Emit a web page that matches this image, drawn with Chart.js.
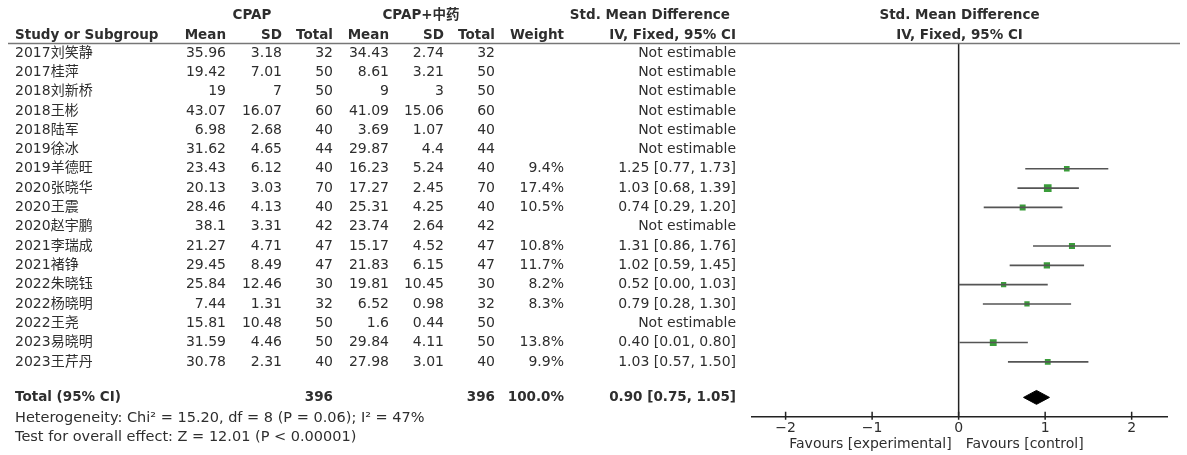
<!DOCTYPE html>
<html>
<head>
<meta charset="utf-8">
<script src="https://cdn.jsdelivr.net/npm/chart.js@4.4.1/dist/chart.umd.min.js"></script>
<style>
    html, body { margin: 0; padding: 0; background: #fff; }
    #wrap { width: 1187px; height: 455px; position: relative; }
</style>
</head>
<body>
<div id="wrap"><canvas id="forestChart"></canvas></div>
<script>
(function () {
    "use strict";

    // data
    const studies = ["2017刘笑静", "2017桂萍", "2018刘新桥", "2018王彬", "2018陆军", "2019徐冰", "2019羊德旺",
        "2020张晓华", "2020王震", "2020赵宇鹏", "2021李瑞成", "2021褚铮", "2022朱晓钰", "2022杨晓明",
        "2022王尧", "2023易晓明", "2023王芹丹"];
    const cpapMean = [35.96, 19.42, 19, 43.07, 6.98, 31.62, 23.43, 20.13, 28.46, 38.1, 21.27, 29.45, 25.84, 7.44, 15.81, 31.59, 30.78];
    const cpapSd = [3.18, 7.01, 7, 16.07, 2.68, 4.65, 6.12, 3.03, 4.13, 3.31, 4.71, 8.49, 12.46, 1.31, 10.48, 4.46, 2.31];
    const cpapTotal = [32, 50, 50, 60, 40, 44, 40, 70, 40, 42, 47, 47, 30, 32, 50, 50, 40];
    const tcmMean = [34.43, 8.61, 9, 41.09, 3.69, 29.87, 16.23, 17.27, 25.31, 23.74, 15.17, 21.83, 19.81, 6.52, 1.6, 29.84, 27.98];
    const tcmSd = [2.74, 3.21, 3, 15.06, 1.07, 4.4, 5.24, 2.45, 4.25, 2.64, 4.52, 6.15, 10.45, 0.98, 0.44, 4.11, 3.01];
    const tcmTotal = [32, 50, 50, 60, 40, 44, 40, 70, 40, 42, 47, 47, 30, 32, 50, 50, 40];
    const weights = [null, null, null, null, null, null, 9.4, 17.4, 10.5, null, 10.8, 11.7, 8.2, 8.3, null, 13.8, 9.9];
    const smd = [null, null, null, null, null, null, 1.25, 1.03, 0.74, null, 1.31, 1.02, 0.52, 0.79, null, 0.40, 1.03];
    const ciLow = [null, null, null, null, null, null, 0.77, 0.68, 0.29, null, 0.86, 0.59, 0.00, 0.28, null, 0.01, 0.57];
    const ciHigh = [null, null, null, null, null, null, 1.73, 1.39, 1.20, null, 1.76, 1.45, 1.03, 1.30, null, 0.80, 1.50];

    const totalCpap = 396;
    const totalTcm = 396;
    const totalWeight = 100.0;
    const pooled = [0.90, 0.75, 1.05]; // estimate, low, high
    const xTicks = [-2, -1, 0, 1, 2];
    const heterogeneityText = "Heterogeneity: Chi² = 15.20, df = 8 (P = 0.06); I² = 47%";
    const overallText = "Test for overall effect: Z = 12.01 (P < 0.00001)";

    const totalRow = 17.84;
    const textColor = "#2e2e2e";
    const fontFamily = "\"DejaVu Sans\", \"Noto Sans CJK SC\", sans-serif";
    const regFont = "14px " + fontFamily;
    const boldFont = "bold 13.5px " + fontFamily;
    const noteFont = "14.5px " + fontFamily;

    // table columns: right edges
    const col = {
        study: 15,
        cpapMean: 226, cpapSd: 282, cpapTotal: 333,
        tcmMean: 389, tcmSd: 444, tcmTotal: 495,
        weight: 564, ci: 736
    };

    function fmtCi(i) {
        return `${smd[i].toFixed(2)} [${ciLow[i].toFixed(2)}, ${ciHigh[i].toFixed(2)}]`;
    }

    function tickText(v) {
        return v < 0 ? "\u2212" + Math.abs(v) : String(v);
    }

    const tablePlugin = {
        id: "forestTable",
        beforeDatasetsDraw(chart) {
            const { ctx, chartArea, scales } = chart;
            const x0 = scales.x.getPixelForValue(0);
            ctx.save();
            ctx.strokeStyle = "#222";
            ctx.lineWidth = 1.5;
            ctx.beginPath();
            ctx.moveTo(x0, chartArea.top);
            ctx.lineTo(x0, chartArea.bottom);
            ctx.stroke();
            ctx.restore();
        },
        afterDraw(chart) {
            const { ctx, chartArea, scales } = chart;
            const yS = scales.y;
            const xS = scales.x;

            ctx.save();
            ctx.fillStyle = textColor;
            ctx.textBaseline = "middle";

            // header
            ctx.font = boldFont;
            ctx.textAlign = "center";
            ctx.fillText("CPAP", 252, 15);
            ctx.fillText("CPAP+中药", 421, 15);
            ctx.fillText("Std. Mean Difference", (xS.left + xS.right) / 2, 15);
            ctx.fillText("IV, Fixed, 95% CI", (xS.left + xS.right) / 2, 35);
            ctx.textAlign = "right";
            ctx.fillText("Std. Mean Difference", 730, 15);
            ctx.fillText("IV, Fixed, 95% CI", col.ci, 35);
            ctx.fillText("Mean", col.cpapMean, 35);
            ctx.fillText("SD", col.cpapSd, 35);
            ctx.fillText("Total", col.cpapTotal, 35);
            ctx.fillText("Mean", col.tcmMean, 35);
            ctx.fillText("SD", col.tcmSd, 35);
            ctx.fillText("Total", col.tcmTotal, 35);
            ctx.fillText("Weight", col.weight, 35);
            ctx.textAlign = "left";
            ctx.fillText("Study or Subgroup", col.study, 35);

            ctx.strokeStyle = "#777";
            ctx.lineWidth = 1.5;
            ctx.beginPath();
            ctx.moveTo(8, chartArea.top);
            ctx.lineTo(1180, chartArea.top);
            ctx.stroke();

            // study rows
            ctx.font = regFont;
            studies.forEach((name, i) => {
                const y = yS.getPixelForValue(i);
                ctx.textAlign = "left";
                ctx.fillText(name, col.study, y);
                ctx.textAlign = "right";
                ctx.fillText(String(cpapMean[i]), col.cpapMean, y);
                ctx.fillText(String(cpapSd[i]), col.cpapSd, y);
                ctx.fillText(String(cpapTotal[i]), col.cpapTotal, y);
                ctx.fillText(String(tcmMean[i]), col.tcmMean, y);
                ctx.fillText(String(tcmSd[i]), col.tcmSd, y);
                ctx.fillText(String(tcmTotal[i]), col.tcmTotal, y);
                if (weights[i] !== null) {
                    ctx.fillText(`${weights[i].toFixed(1)}%`, col.weight, y);
                    ctx.fillText(fmtCi(i), col.ci, y);
                } else {
                    ctx.fillText("Not estimable", col.ci, y);
                }
            });

            // total row
            const yt = yS.getPixelForValue(totalRow);
            ctx.font = boldFont;
            ctx.textAlign = "left";
            ctx.fillText("Total (95% CI)", col.study, yt);
            ctx.textAlign = "right";
            ctx.fillText(String(totalCpap), col.cpapTotal, yt);
            ctx.fillText(String(totalTcm), col.tcmTotal, yt);
            ctx.fillText(`${totalWeight.toFixed(1)}%`, col.weight, yt);
            ctx.fillText(`${pooled[0].toFixed(2)} [${pooled[1].toFixed(2)}, ${pooled[2].toFixed(2)}]`, col.ci, yt);

            ctx.font = noteFont;
            ctx.textAlign = "left";
            ctx.fillText(heterogeneityText, col.study, 418);
            ctx.fillText(overallText, col.study, 437);

            // x axis
            const ya = chartArea.bottom;
            ctx.strokeStyle = "#222";
            ctx.lineWidth = 1.5;
            ctx.beginPath();
            ctx.moveTo(xS.left, ya);
            ctx.lineTo(xS.right, ya);
            xTicks.forEach((t) => {
                const px = xS.getPixelForValue(t);
                ctx.moveTo(px, ya - 5);
                ctx.lineTo(px, ya + 3);
            });
            ctx.stroke();

            ctx.font = "14px " + fontFamily;
            ctx.textAlign = "center";
            xTicks.forEach((t) => {
                ctx.fillText(tickText(t), xS.getPixelForValue(t), ya + 12);
            });
            const x0 = xS.getPixelForValue(0);
            ctx.textAlign = "right";
            ctx.fillText("Favours [experimental]", x0 - 7, ya + 28);
            ctx.textAlign = "left";
            ctx.fillText("Favours [control]", x0 + 7, ya + 28);
            ctx.restore();
        }
    };

    const datasets = [];
    studies.forEach((name, i) => {
        if (smd[i] === null) return;
        datasets.push({
            type: "line",
            label: name,
            data: [{ x: ciLow[i], y: i }, { x: ciHigh[i], y: i }],
            borderColor: "#555",
            borderWidth: 1.6,
            pointRadius: 0,
            fill: false
        });
    });

    const estIdx = studies.map((_, i) => i).filter((i) => smd[i] !== null);
    datasets.push({
        type: "scatter",
        label: "SMD",
        data: estIdx.map((i) => ({ x: smd[i], y: i })),
        pointStyle: "rect",
        pointRadius: estIdx.map((i) => 1.3 * Math.sqrt(weights[i])),
        backgroundColor: "#3a9d3a",
        borderWidth: 0
    });

    const dh = 0.36;
    datasets.push({
        type: "line",
        label: "Total",
        data: [
            { x: pooled[1], y: totalRow },
            { x: pooled[0], y: totalRow - dh },
            { x: pooled[2], y: totalRow },
            { x: pooled[0], y: totalRow + dh },
            { x: pooled[1], y: totalRow }
        ],
        borderColor: "#000",
        backgroundColor: "#000",
        borderWidth: 1,
        pointRadius: 0,
        tension: 0,
        fill: "shape"
    });

    new Chart(document.getElementById("forestChart"), {
        type: "scatter",
        data: { datasets },
        plugins: [tablePlugin],
        options: {
            responsive: true,
            maintainAspectRatio: false,
            animation: false,
            layout: { padding: { left: 751, right: 19, top: 43.5, bottom: 38.3 } },
            plugins: { legend: { display: false }, tooltip: { enabled: false } },
            scales: {
                x: { type: "linear", min: -2.4, max: 2.42, display: false },
                y: { type: "linear", min: -0.49, max: 18.84, reverse: true, display: false }
            }
        }
    });
}());
</script>
</body>
</html>
